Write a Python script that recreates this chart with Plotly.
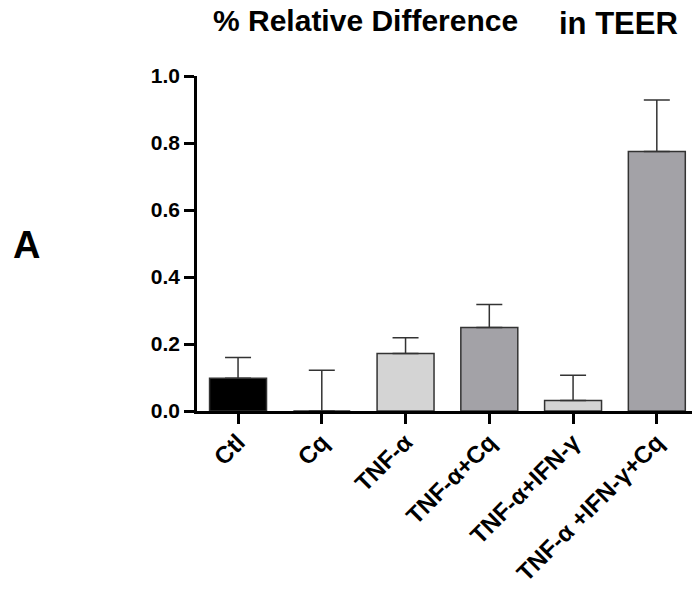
import plotly.graph_objects as go

categories = ["Ctl", "Cq", "TNF-α", "TNF-α+Cq", "TNF-α+IFN-γ", "TNF-α +IFN-γ+Cq"]
means = [0.098, 0.0, 0.172, 0.249, 0.031, 0.775]
err_plus = [0.062, 0.122, 0.047, 0.069, 0.076, 0.153]
bar_colors = ["#000000", "#ffffff", "#d4d4d4", "#a3a2a7", "#d4d4d4", "#a3a2a7"]
y_ticks = [0.0, 0.2, 0.4, 0.6, 0.8, 1.0]
y_tick_labels = ["0.0", "0.2", "0.4", "0.6", "0.8", "1.0"]

fig = go.Figure()
fig.add_trace(go.Bar(
    x=categories,
    y=means,
    marker=dict(color=bar_colors, line=dict(color="#333333", width=1.5)),
    error_y=dict(type="data", array=err_plus, arrayminus=[0] * len(means),
                 symmetric=False, color="#333333", thickness=1.5, width=13),
    showlegend=False,
))

fig.update_layout(
    width=692, height=590,
    margin=dict(l=197, r=0, t=76, b=179),
    paper_bgcolor="white", plot_bgcolor="white",
    bargap=0.32,
    font=dict(family="Liberation Sans", color="#000000"),
    xaxis=dict(
        range=[-0.49, 5.42], showline=True, linecolor="#000000", linewidth=2.5,
        ticks="outside", ticklen=10, tickwidth=2.5, tickcolor="#000000",
        tickangle=-45, ticklabelstandoff=-5,
        tickfont=dict(family="Liberation Sans", size=24, color="#000000", weight="bold"),
        showgrid=False, zeroline=False,
    ),
    yaxis=dict(
        range=[0, 1.0], showline=True, linecolor="#000000", linewidth=2.5,
        ticks="outside", ticklen=10, tickwidth=2.5, tickcolor="#000000",
        tickvals=y_ticks, ticktext=y_tick_labels,
        tickfont=dict(family="Liberation Sans", size=21, color="#000000", weight="bold"),
        showgrid=False, zeroline=False,
    ),
    annotations=[
        dict(text="<b>% Relative Difference</b>", xref="paper", yref="paper",
             x=(211 - 197) / 495, y=(590 - 179 - 39) / 335, xanchor="left", yanchor="bottom",
             showarrow=False, font=dict(family="Liberation Sans", size=30, color="#000000")),
        dict(text="<b>in TEER</b>", xref="paper", yref="paper",
             x=(557 - 197) / 495, y=(590 - 179 - 43) / 335, xanchor="left", yanchor="bottom",
             showarrow=False, font=dict(family="Liberation Sans", size=31, color="#000000")),
        dict(text="<b>A</b>", xref="paper", yref="paper",
             x=(11 - 197) / 495, y=(410.7 - 245) / 335, xanchor="left", yanchor="middle",
             showarrow=False, font=dict(family="Liberation Sans", size=38, color="#000000")),
    ],
)

fig.write_html("out.html")
